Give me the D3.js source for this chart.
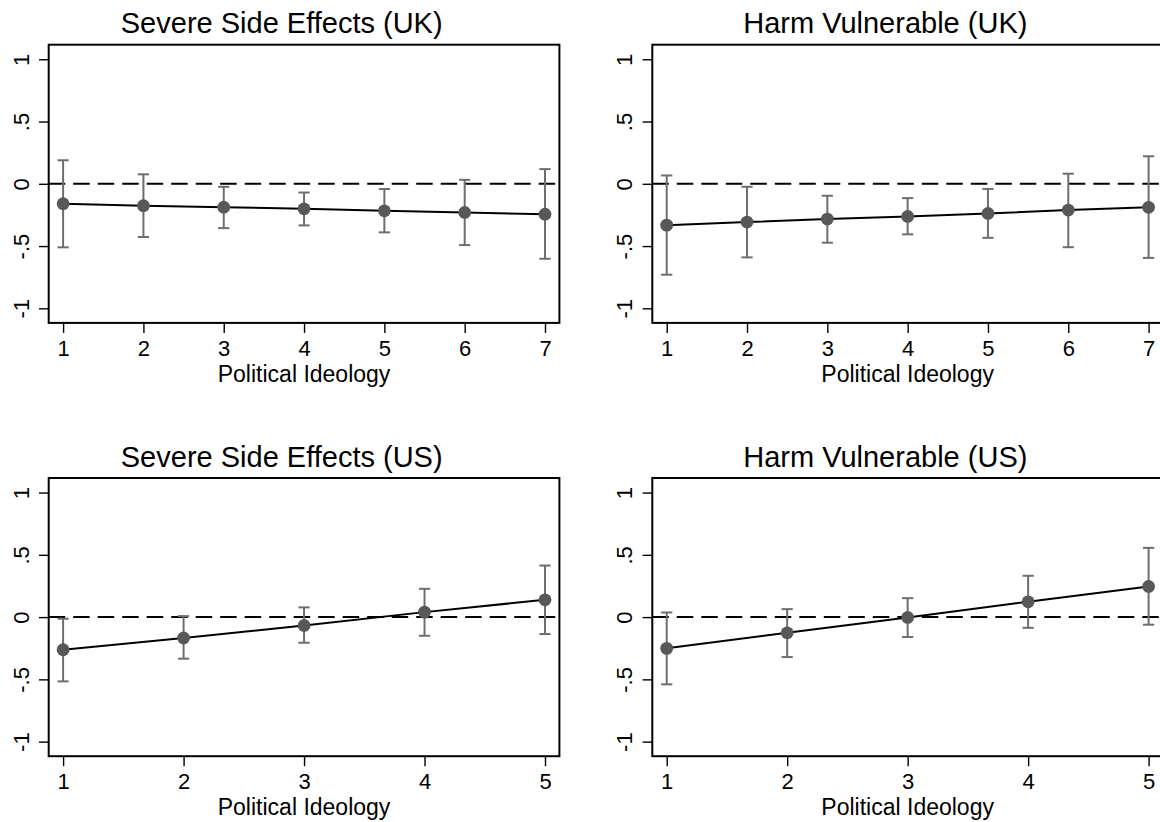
<!DOCTYPE html>
<html>
<head>
<meta charset="utf-8">
<script src="https://cdn.jsdelivr.net/npm/d3@7"></script>
<style>
  html, body { margin: 0; padding: 0; background: #fff; }
  svg { display: block; font-family: "Liberation Sans", Arial, Helvetica, sans-serif; }
</style>
</head>
<body>
<svg id="chart" width="1160" height="822"></svg>
<script>
// Political ideology scale points for each country
const ideologyUK = [1, 2, 3, 4, 5, 6, 7];
const ideologyUS = [1, 2, 3, 4, 5];

// Marginal effects with 95% confidence bounds
const severeUK   = [-0.160, -0.176, -0.188, -0.201, -0.217, -0.230, -0.244];
const severeUKLo = [-0.510, -0.427, -0.356, -0.334, -0.390, -0.492, -0.602];
const severeUKHi = [ 0.189,  0.076, -0.024, -0.070, -0.042,  0.032,  0.118];

const harmUK   = [-0.332, -0.307, -0.283, -0.262, -0.238, -0.211, -0.189];
const harmUKLo = [-0.730, -0.591, -0.473, -0.406, -0.434, -0.509, -0.595];
const harmUKHi = [ 0.067, -0.024, -0.096, -0.115, -0.041,  0.081,  0.221];

const severeUS   = [-0.262, -0.168, -0.067,  0.040,  0.139];
const severeUSLo = [-0.516, -0.334, -0.206, -0.150, -0.136];
const severeUSHi = [-0.013,  0.008,  0.078,  0.227,  0.414];

const harmUS   = [-0.251, -0.126, -0.003,  0.123,  0.246];
const harmUSLo = [-0.540, -0.321, -0.160, -0.086, -0.061];
const harmUSHi = [ 0.037,  0.064,  0.152,  0.332,  0.556];

const panelTitles = ["Severe Side Effects (UK)", "Harm Vulnerable (UK)",
                     "Severe Side Effects (US)", "Harm Vulnerable (US)"];
const xTitle = "Political Ideology";
const yTicks = [-1, -0.5, 0, 0.5, 1];
const yTickLabels = ["-1", "-.5", "0", ".5", "1"];

const panels = [
  { title: panelTitles[0], x: ideologyUK, est: severeUK, lo: severeUKLo, hi: severeUKHi, col: 0, row: 0 },
  { title: panelTitles[1], x: ideologyUK, est: harmUK,   lo: harmUKLo,   hi: harmUKHi,   col: 1, row: 0 },
  { title: panelTitles[2], x: ideologyUS, est: severeUS, lo: severeUSLo, hi: severeUSHi, col: 0, row: 1 },
  { title: panelTitles[3], x: ideologyUS, est: harmUS,   lo: harmUSLo,   hi: harmUSHi,   col: 1, row: 1 }
];

// Plot-region geometry
const colLeft = [48.7, 652.3];
const rowTop = [44.7, 478];
const frameW = 510.7;
const frameH = 278.2;
const xPad = 14.4;

const svg = d3.select("#chart");

panels.forEach(p => {
  const left = colLeft[p.col], top = rowTop[p.row];
  const right = left + frameW, bottom = top + frameH;

  const x = d3.scaleLinear()
    .domain(d3.extent(p.x))
    .range([left + xPad, right - xPad]);
  const y = d3.scaleLinear()
    .domain([-1.117, 1.117])
    .range([bottom, top]);

  const g = svg.append("g");

  // Title
  g.append("text")
    .attr("x", left + 233)
    .attr("y", top - 11.4)
    .attr("text-anchor", "middle")
    .attr("font-size", 29)
    .attr("fill", "#000")
    .text(p.title);

  // Zero reference line
  g.append("line")
    .attr("x1", left).attr("x2", right)
    .attr("y1", y(0)).attr("y2", y(0))
    .attr("stroke", "#000")
    .attr("stroke-width", 2)
    .attr("stroke-dasharray", "16.5 8");

  // Confidence intervals
  const ci = g.append("g").attr("stroke", "#6e6e6e").attr("stroke-width", 2).attr("fill", "none");
  p.x.forEach((v, i) => {
    const cx = x(v);
    ci.append("line").attr("x1", cx).attr("x2", cx).attr("y1", y(p.lo[i])).attr("y2", y(p.hi[i]));
    ci.append("line").attr("x1", cx - 5.6).attr("x2", cx + 5.6).attr("y1", y(p.lo[i])).attr("y2", y(p.lo[i]));
    ci.append("line").attr("x1", cx - 5.6).attr("x2", cx + 5.6).attr("y1", y(p.hi[i])).attr("y2", y(p.hi[i]));
  });

  // Connecting line
  const line = d3.line().x((d, i) => x(p.x[i])).y(d => y(d));
  g.append("path")
    .attr("d", line(p.est))
    .attr("fill", "none")
    .attr("stroke", "#000")
    .attr("stroke-width", 2);

  // Point estimates
  g.selectAll("circle.pt")
    .data(p.est)
    .join("circle")
    .attr("class", "pt")
    .attr("cx", (d, i) => x(p.x[i]))
    .attr("cy", d => y(d))
    .attr("r", 6.4)
    .attr("fill", "#585858");

  // Plot frame
  g.append("rect")
    .attr("x", left).attr("y", top)
    .attr("width", frameW).attr("height", frameH)
    .attr("fill", "none")
    .attr("stroke", "#000")
    .attr("stroke-width", 2);

  // Y axis (rotated tick labels)
  const yAxis = d3.axisLeft(y)
    .tickValues(yTicks)
    .tickSize(9.7)
    .tickPadding(10)
    .tickFormat((d, i) => yTickLabels[i]);
  const ya = g.append("g").attr("transform", `translate(${left},0)`).call(yAxis);
  ya.select(".domain").remove();
  ya.selectAll(".tick line").attr("stroke", "#000").attr("stroke-width", 1.4);
  ya.selectAll(".tick text")
    .attr("font-size", 22)
    .attr("font-family", "Liberation Sans, Arial, sans-serif")
    .attr("fill", "#000")
    .attr("x", null).attr("dy", null)
    .attr("text-anchor", "middle")
    .attr("transform", "translate(-20,0) rotate(-90)");

  // X axis
  const xAxis = d3.axisBottom(x)
    .tickValues(p.x)
    .tickSize(10)
    .tickPadding(0)
    .tickFormat(d3.format("d"));
  const xa = g.append("g").attr("transform", `translate(0,${bottom})`).call(xAxis);
  xa.select(".domain").remove();
  xa.selectAll(".tick line").attr("stroke", "#000").attr("stroke-width", 1.4);
  xa.selectAll(".tick text")
    .attr("font-size", 22)
    .attr("font-family", "Liberation Sans, Arial, sans-serif")
    .attr("fill", "#000")
    .attr("dy", null)
    .attr("y", 33);

  // X axis title
  g.append("text")
    .attr("x", (left + right) / 2)
    .attr("y", bottom + 59.2)
    .attr("text-anchor", "middle")
    .attr("font-size", 23)
    .attr("fill", "#000")
    .text(xTitle);
});
</script>
</body>
</html>
